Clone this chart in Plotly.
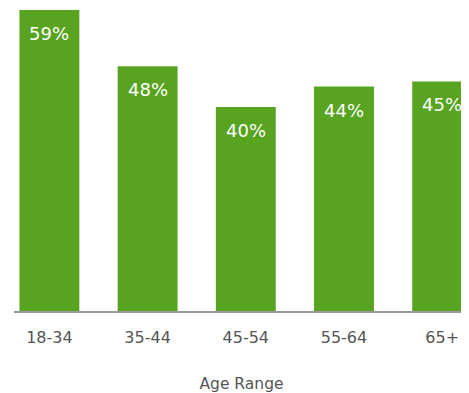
import plotly.graph_objects as go

categories = ["18-34", "35-44", "45-54", "55-64", "65+"]
values = [59, 48, 40, 44, 45]
labels = ["59%", "48%", "40%", "44%", "45%"]

GREEN = "#58A31F"
FONT = "DejaVu Sans"

fig = go.Figure()
fig.add_trace(go.Bar(
    x=categories, y=values, width=0.61,
    marker=dict(color=GREEN, line=dict(width=0)),
    hoverinfo="skip",
))

for c, v, t in zip(categories, values, labels):
    fig.add_annotation(
        x=c, y=v, text=t, showarrow=False,
        xanchor="center", yanchor="top", yshift=-11,
        font=dict(family=FONT, size=18, color="white"),
    )

fig.update_layout(
    width=461, height=385,
    margin=dict(l=6, r=0, t=0, b=82),
    plot_bgcolor="white", paper_bgcolor="white",
    showlegend=False,
    xaxis=dict(
        type="category",
        range=[-0.3605, 4.273],
        showline=True, linecolor="#9a9a9a", linewidth=1.5,
        showgrid=False, zeroline=False, ticks="",
        ticklabelstandoff=11,
        tickfont=dict(family=FONT, size=16, color="#555555"),
        title=dict(text="Age Range", standoff=36,
                   font=dict(family=FONT, size=15.5, color="#555555")),
    ),
    yaxis=dict(
        range=[0, 59.4], visible=False, showgrid=False, zeroline=False,
    ),
)

fig.write_html("out.html")
